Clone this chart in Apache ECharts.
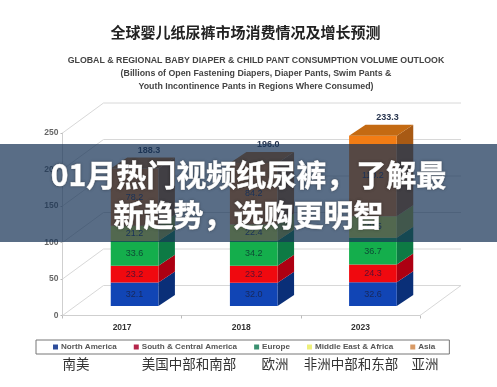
<!DOCTYPE html>
<html><head><meta charset="utf-8">
<script src="https://cdn.jsdelivr.net/npm/echarts@6/dist/echarts.min.js"></script>
<style>html,body{margin:0;padding:0;background:#fff}#c,#o{position:absolute;left:0;top:0;width:497px;height:387px}#c{filter:blur(0.55px)}</style>
</head><body><div id="c"></div><div id="o"></div>
<script>
const years = ['2017','2018','2023'];
const yTicks = [0,50,100,150,200,250];
const regions = ['North America','South & Central America','Europe','Middle East & Africa','Asia'];
const northAmerica = [32.1,32.0,32.6];
const southCentral = [23.2,23.2,24.3];
const europe = [33.6,34.2,36.7];
const middleEast = [21.2,22.4,29.5];
const asia = [78.2,84.2,110.2];
const totals = ['188.3','196.0','233.3'];
const chartTitle = '全球婴儿纸尿裤市场消费情况及增长预测';
const subTitles = ['GLOBAL & REGIONAL BABY DIAPER & CHILD PANT CONSUMPTION VOLUME OUTLOOK','(Billions of Open Fastening Diapers, Diaper Pants, Swim Pants &','Youth Incontinence Pants in Regions Where Consumed)'];
const cnLabels = ['南美','美国中部和南部','欧洲','非洲中部和东部','亚洲'];
const cnX = [76,189,275,351,425];
const bannerLines = ['01月热门视频纸尿裤，了解最','新趋势，选购更明智'];

const frontColors = ['#1145b5','#f0090f','#14ae4c','#e6ee3c','#f27c14'];
const sideColors = ['#0a2f78','#ad0012','#0d7a44','#a8b030','#a85a14'];
const topColor = '#c46a12';
const legendColors = ['#2e4d9b','#b5254a','#3a9070','#eef07a','#d89a66'];
const values = [northAmerica,southCentral,europe,middleEast,asia];

const wallDx = 41, wallDy = -30;      // depth of the chart box
const barDx = 12.5, barDy = -9.5;     // bar position inside the box
const sideDx = 16.5, sideDy = -11;    // depth of a bar

function poly(points, fill){ return {type:'polygon',shape:{points},style:{fill}}; }

const wallSeries = {
  type:'custom', coordinateSystem:'cartesian2d', silent:true, z:1, legendHoverLink:false,
  data: yTicks.map(v=>[0,v]),
  renderItem(params, api){
    const cs = params.coordSys, y = api.coord([0,api.value(1)])[1];
    const line = {stroke:'#d8d8d8',lineWidth:1};
    const kids = [
      {type:'line',shape:{x1:cs.x,y1:y,x2:cs.x+wallDx,y2:y+wallDy},style:line},
      {type:'line',shape:{x1:cs.x+wallDx,y1:y+wallDy,x2:cs.x+cs.width+wallDx,y2:y+wallDy},style:line}
    ];
    if (api.value(1)===0) kids.push({type:'line',shape:{x1:cs.x+cs.width,y1:y,x2:cs.x+cs.width+wallDx,y2:y+wallDy},style:line});
    return {type:'group',children:kids};
  }
};

function segmentSeries(si){
  const data = years.map((_,i)=>{
    let base = 0; for(let k=0;k<si;k++) base += values[k][i];
    return [i, base, base+values[si][i], values[si][i].toFixed(1), totals[i]];
  });
  return {
    name: regions[si], type:'custom', coordinateSystem:'cartesian2d', silent:true, z:2,
    data, dimensions:['cat','base','top','label','total'],
    encode:{x:0,y:[1,2]},
    renderItem(params, api){
      const c = api.value(0);
      const a = api.coord([c,api.value(1)]), b = api.coord([c,api.value(2)]);
      const hw = api.size([1,0])[0]*0.2;
      const x0 = a[0]-hw+barDx, x1 = a[0]+hw+barDx;
      const y0 = a[1]+barDy, y1 = b[1]+barDy;
      const kids = [
        poly([[x1,y0],[x1+sideDx,y0+sideDy],[x1+sideDx,y1+sideDy],[x1,y1]], sideColors[si]),
        poly([[x0,y0],[x1,y0],[x1,y1],[x0,y1]], frontColors[si]),
        {type:'text',style:{x:(x0+x1)/2,y:(y0+y1)/2,text:String(data[c][3]),align:'center',verticalAlign:'middle',
          fontSize:9,fontFamily:'Liberation Sans',fill:si===2?'#0d4a35':(si===1?'#5a1030':'#18285a')}}
      ];
      if (si===4){
        kids.push(poly([[x0,y1],[x1,y1],[x1+sideDx,y1+sideDy],[x0+sideDx,y1+sideDy]], topColor));
        kids.push({type:'text',style:{x:(x0+x1)/2+sideDx-2,y:y1+sideDy-7,text:data[c][4],align:'center',verticalAlign:'middle',
          fontSize:9,fontWeight:'bold',fontFamily:'Liberation Sans',fill:'#26334d'}});
      }
      return {type:'group',children:kids};
    }
  };
}

const txt = (x,y,text,fontSize,fill,fontWeight,fontFamily)=>({type:'text',x,y,z:5,
  style:{text,fontSize,fill,fontWeight:fontWeight||'normal',fontFamily:fontFamily||'Noto Sans CJK SC',align:'center',verticalAlign:'middle'}});

const chart = echarts.init(document.getElementById('c'));
chart.setOption({
  animation:false, backgroundColor:'#fff',
  grid:{left:62.5,width:357.5,top:133,height:182.5},
  xAxis:{type:'category',data:years,
    axisLine:{lineStyle:{color:'#cfcfcf',width:1}},
    axisTick:{show:true,length:3,alignWithLabel:false,lineStyle:{color:'#bbb'}},
    axisLabel:{fontSize:8.5,fontWeight:'bold',color:'#333',margin:8,fontFamily:'Liberation Sans'}},
  yAxis:{type:'value',min:0,max:250,interval:50,
    splitLine:{show:false},
    axisLine:{show:true,lineStyle:{color:'#cfcfcf',width:1}},
    axisTick:{show:true,length:2,lineStyle:{color:'#bbb'}},
    axisLabel:{fontSize:8.5,fontWeight:'bold',color:'#666',margin:4,fontFamily:'Liberation Sans'}},
  legend:{left:36,top:340,orient:'horizontal',padding:[3,14,3,17],itemGap:17,itemWidth:5,itemHeight:5,
    borderColor:'#777',borderWidth:1,borderRadius:0,selectedMode:false,icon:'rect',
    textStyle:{fontSize:8.1,fontWeight:'bold',color:'#555',fontFamily:'Liberation Sans',padding:[0,0,0,-2]},
    data:regions.map((name,i)=>({name,itemStyle:{color:legendColors[i]}}))},
  graphic:{elements:[
    txt(245.5,32,chartTitle,15,'#222','bold'),
    txt(256,61,subTitles[0],8.8,'#444','bold','Liberation Sans'),
    txt(256,74,subTitles[1],8.8,'#444','bold','Liberation Sans'),
    txt(256,87,subTitles[2],8.8,'#444','bold','Liberation Sans'),
    ...cnLabels.map((t,i)=>txt(cnX[i],364,t,13.5,'#333','normal'))
  ]},
  series:[wallSeries, ...regions.map((_,i)=>segmentSeries(i))]
});

const overlay = echarts.init(document.getElementById('o'));
overlay.setOption({
  animation:false, backgroundColor:'transparent',
  graphic:{elements:[
    {type:'rect',shape:{x:0,y:144,width:497,height:98},style:{fill:'rgba(25,53,88,0.72)'},z:1},
    ...bannerLines.map((t,i)=>({type:'text',x:248.5,y:175+i*40,z:2,style:{text:t,fontSize:30,fontWeight:'bold',
      fontFamily:'Noto Sans CJK SC',fill:'#fff',align:'center',verticalAlign:'middle',
      stroke:'#fff',lineWidth:0.6,
      textShadowColor:'rgba(0,0,0,0.35)',textShadowBlur:3}}))
  ]}
});
</script></body></html>
